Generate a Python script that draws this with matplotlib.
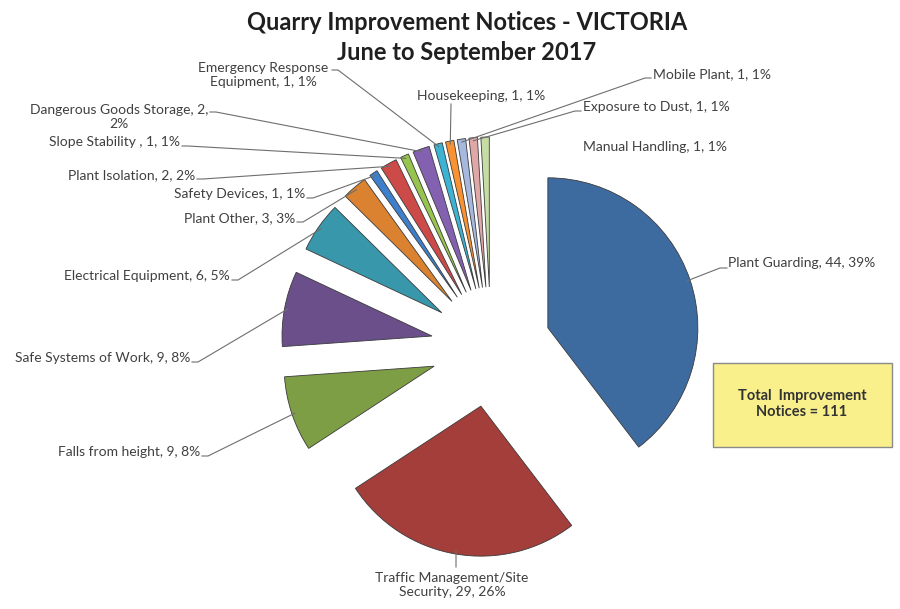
import matplotlib.pyplot as plt
from matplotlib.patches import Rectangle
import numpy as np

# data
categories = ['Plant Guarding', 'Traffic Management/Site Security', 'Falls from height',
              'Safe Systems of Work', 'Electrical Equipment', 'Plant Other', 'Safety Devices',
              'Plant Isolation', 'Slope Stability ', 'Dangerous Goods Storage',
              'Emergency Response Equipment', 'Housekeeping', 'Mobile Plant',
              'Exposure to Dust', 'Manual Handling']
counts = [44, 29, 9, 9, 6, 3, 1, 2, 1, 2, 1, 1, 1, 1, 1]
percents = [39, 26, 8, 8, 5, 3, 1, 2, 1, 2, 1, 1, 1, 1, 1]
total = sum(counts)

colors = ['#3E6B9F', '#A33E3B', '#7E9E45', '#6A4F8B', '#3897AA', '#DA8230',
          '#3E7FCC', '#CC4A48', '#97C34F', '#8461B0', '#3CB3D2', '#F89233',
          '#A6B8DE', '#DFA7A6', '#C7DBA5']

# labels, with the line breaks used in the original
labels = [f'{c}, {n}, {p}%' for c, n, p in zip(categories, counts, percents)]
labels[1] = labels[1].replace('Site ', 'Site\n')
labels[9] = labels[9].replace('2, 2%', '2,\n2%')
labels[10] = labels[10].replace('Response ', 'Response\n')

W, H = 900, 609
plt.rcParams['font.family'] = ['Lato', 'DejaVu Sans']

fig = plt.figure(figsize=(W / 100, H / 100), dpi=100)
ax = fig.add_axes([0, 0, 1, 1])

R = 150
cx, cy = 491, 347
wedges, _ = ax.pie(counts, radius=R, center=(cx, H - cy), startangle=90, counterclock=False,
                   explode=[60] * len(counts), colors=colors,
                   wedgeprops=dict(edgecolor='#3a3a3a', linewidth=0.6))
ax.set_xlim(0, W)
ax.set_ylim(0, H)
ax.axis('off')

# label placement (pixel coords, origin top-left): x, y, ha, leader start points
layout = [
    (728, 263, 'left', [(727, 268), (720, 268)]),
    (452, 585, 'center', [(456, 567)]),
    (200, 452, 'right', [(202, 456), (208, 456)]),
    (190, 358, 'right', [(192, 362), (198, 362)]),
    (230, 276, 'right', [(232, 280), (238, 280)]),
    (295, 218, 'right', [(297, 222), (303, 222)]),
    (305, 194, 'right', [(307, 198), (313, 198)]),
    (195, 175, 'right', [(197, 179), (203, 179)]),
    (180, 142, 'right', [(182, 146), (188, 146)]),
    (119, 117, 'center', [(210, 112), (216, 112)]),
    (263, 75, 'center', [(332, 70), (338, 70)]),
    (417, 96, 'left', [(451, 104)]),
    (653, 74, 'left', [(651, 78), (645, 78)]),
    (583, 107, 'left', [(581, 111), (575, 111)]),
    (583, 147, 'left', []),
]

for w, lab, (x, y, ha, pts) in zip(wedges, labels, layout):
    ax.text(x, H - y, lab, ha=ha, va='center', multialignment='center',
            fontsize=10, color='#404040', linespacing=1.3)
    if pts:
        mid = np.deg2rad((w.theta1 + w.theta2) / 2)
        ex = w.center[0] + w.r * 0.98 * np.cos(mid)
        ey = w.center[1] + w.r * 0.98 * np.sin(mid)
        xs = [p[0] for p in pts] + [ex]
        ys = [H - p[1] for p in pts] + [ey]
        ax.plot(xs, ys, color='#6e6e6e', lw=0.8)

ax.text(467, H - 22, 'Quarry Improvement Notices - VICTORIA', ha='center', va='center',
        fontsize=17, fontweight='bold', color='#1f1f1f')
ax.text(467, H - 52, 'June to September 2017', ha='center', va='center',
        fontsize=17, fontweight='bold', color='#1f1f1f')

# total box
ax.add_patch(Rectangle((713, H - 447), 179, 84, facecolor='#F9F08C', edgecolor='#8a8a8a', lw=1))
ax.text(802, H - 404, f'Total  Improvement\nNotices = {total}', ha='center', va='center',
        fontsize=10.5, fontweight='bold', color='#333333', linespacing=1.15)

plt.savefig('out.png', dpi=100)
plt.close()
